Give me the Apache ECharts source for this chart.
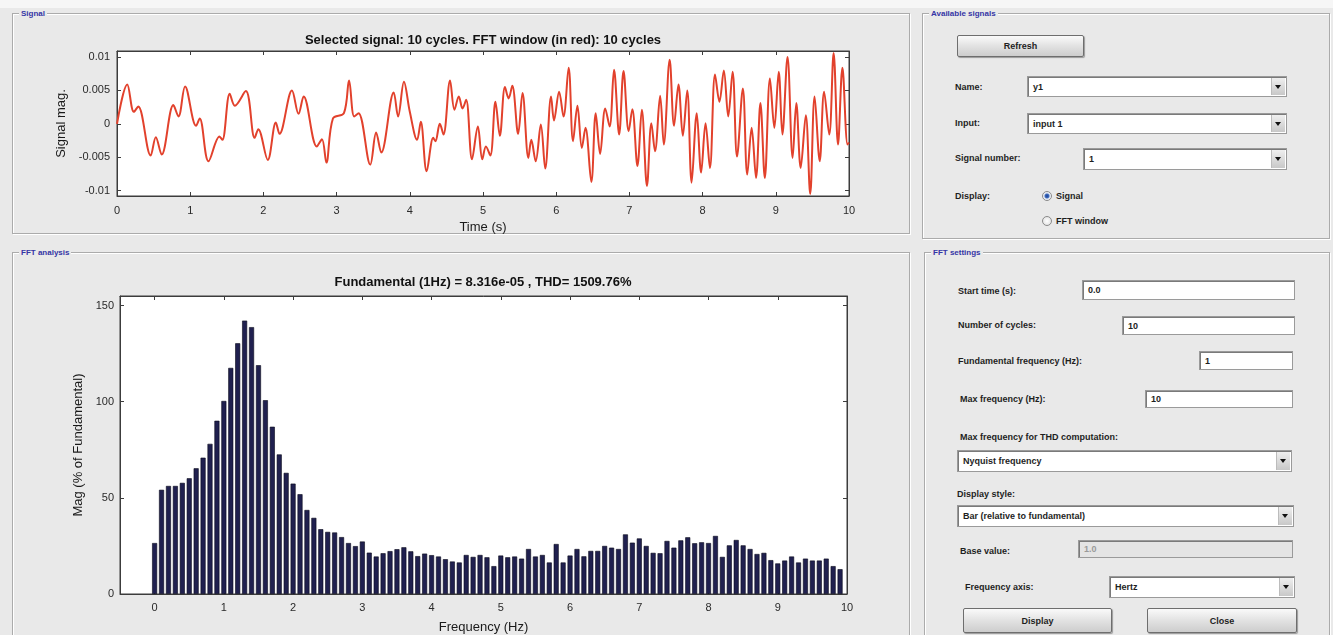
<!DOCTYPE html>
<html>
<head>
<meta charset="utf-8">
<title>FFT analysis</title>
<script src="https://cdn.jsdelivr.net/npm/echarts@6/dist/echarts.min.js"></script>
<style>
  html, body { margin: 0; padding: 0; }
  body { width: 1333px; height: 635px; overflow: hidden; background: #e9e9e9; position: relative;
         font-family: Arial, 'Liberation Sans', Helvetica, sans-serif; }
  #topstrip { position: absolute; left: 0; top: 0; width: 1333px; height: 8px; background: #f6f6f6; }
  .panel { position: absolute; border: 1px solid #ababab; box-shadow: inset 1px 1px 0 #fff, 1px 1px 0 #fff; }
  .plabel { position: absolute; top: -6px; left: 6px; padding: 0 2px; background: #e9e9e9; color: #3535a5;
            font-size: 8px; font-weight: bold; line-height: 11px; white-space: nowrap; }
  #chart { position: absolute; left: 0; top: 0; width: 912px; height: 635px; }
  .lbl { position: absolute; font-size: 9px; font-weight: bold; color: #1e1e1e; line-height: 12px;
         transform: translateY(-50%); white-space: nowrap; }
  .box { position: absolute; background: #fff; border: 1px solid #9a9a9a; box-shadow: inset 1px 1px 0 #7a7a7a;
         box-sizing: border-box; font-size: 9px; font-weight: bold; color: #1e1e1e; padding-left: 5px;
         display: flex; align-items: center; white-space: nowrap; }
  .box.off { background: #e4e4e4; color: #9a9a9a; }
  .arrow { position: absolute; right: 1px; top: 1px; bottom: 1px; width: 13px; background: linear-gradient(#efefef, #c8c8c8);
           border-left: 1px solid #bcbcbc; }
  .arrow:after { content: ''; position: absolute; left: 3px; top: 50%; margin-top: -2px; border-left: 3.5px solid transparent;
                 border-right: 3.5px solid transparent; border-top: 4px solid #111; }
  .btn { position: absolute; box-sizing: border-box; border: 1px solid #6e6e6e; border-radius: 2px;
         background: linear-gradient(#fafafa, #e2e2e2 50%, #cdcdcd); font-size: 9px; font-weight: bold; color: #1e1e1e;
         display: flex; align-items: center; justify-content: center; box-shadow: 1px 1px 1px #9a9a9a; }
  .radio { position: absolute; width: 10px; height: 10px; border-radius: 50%; border: 1px solid #8a8a8a;
           background: radial-gradient(#fff, #dcdcdc); box-sizing: border-box; transform: translate(-50%, -50%); }
  .radio.on { background: radial-gradient(circle, #1f3f8f 0, #3b6bc0 35%, #cfd8ea 50%, #fff 75%); }
</style>
</head>
<body>
<div id="topstrip"></div>
<div id="ui"></div>
<div id="chart"></div>
<script>
// Signal (time domain): extrema of the trace
const sigTime = [
  0.00, 0.14, 0.23, 0.29, 0.46, 0.53, 0.61, 0.77, 0.84, 0.93, 1.08, 1.13, 1.25, 1.40, 1.44, 1.54, 1.61, 1.76,
  1.88, 1.93, 2.06, 2.17, 2.22, 2.39, 2.48, 2.55, 2.73, 2.80, 2.86, 2.95, 3.10, 3.17, 3.24, 3.30,
  3.46, 3.54, 3.61, 3.78, 3.84, 3.92, 4.00, 4.10, 4.15, 4.23, 4.32, 4.35, 4.41, 4.46, 4.55, 4.61, 4.67,
  4.72, 4.77, 4.85, 4.93, 4.99, 5.04, 5.10, 5.17, 5.23, 5.30, 5.35, 5.40, 5.48, 5.54, 5.62, 5.66, 5.72,
  5.79, 5.85, 5.93, 5.97, 6.04, 6.10, 6.17, 6.23, 6.29, 6.35, 6.40, 6.48, 6.54, 6.60,
  6.67, 6.73, 6.79, 6.86, 6.92, 6.99, 7.04, 7.11, 7.17, 7.24, 7.30, 7.35, 7.42, 7.47, 7.55, 7.61, 7.67,
  7.73, 7.79, 7.85, 7.92, 7.98, 8.04, 8.10, 8.17, 8.23, 8.29, 8.35, 8.41, 8.47, 8.55, 8.61, 8.67, 8.73,
  8.79, 8.85, 8.92, 8.98, 9.04, 9.09, 9.16, 9.23, 9.28, 9.34, 9.41, 9.47, 9.53, 9.60, 9.66, 9.73, 9.79,
  9.85, 9.91, 9.98, 10.00
];
const sigMag = [
  0, 0.0059, 0.0018, 0.0026, -0.00475, -0.0020, -0.0046, 0.0028, 0.0011, 0.0056, -0.0003, 0.0008, -0.0056,
  -0.0019, -0.0024, 0.0045, 0.0027, 0.0049,
  -0.0021, -0.0008, -0.0054, 0.0002, -0.0015, 0.0050, 0.0015, 0.0041, -0.0034, -0.0023, -0.0058, 0.0008,
  0.0016, 0.0065, 0.0011, 0.0016,
  -0.0061, -0.0013, -0.0043, 0.0047, 0.0011, 0.0063, 0.0018, -0.0024, 0.0003, -0.0071, -0.0021, -0.0026,
  0.0000, -0.0016, 0.0065, 0.0021, 0.0041,
  0.0023, 0.0036, -0.0053, -0.0004, -0.0053, -0.0034, -0.00475, 0.0033, -0.0018, 0.0055, 0.0038, 0.0057,
  -0.0015, 0.0046, -0.0051, -0.0024, -0.0056,
  -0.0001, -0.0067, 0.0041, 0.0005, 0.0048, 0.0011, 0.0084, -0.0026, 0.0027, -0.0036, -0.0006, -0.0087,
  0.0016, -0.0045,
  0.0023, -0.0004, 0.0081, -0.0016, 0.0079, -0.0011, 0.0022, -0.0063, 0.0021, -0.0093, 0.0001, -0.0041,
  0.0042, -0.0031, 0.0096, -0.0003, 0.0059,
  -0.0018, 0.0050, -0.0088, 0.0016, -0.0073, 0.0001, -0.0066, 0.0074, 0.0033, 0.0080, 0.0011, 0.0078,
  -0.0049, 0.0053, -0.0076, -0.0006, -0.0081,
  0.0031, -0.0081, 0.0068, -0.0006, 0.0078, -0.0016, 0.0100, -0.0051, 0.0031, -0.0066, 0.0013, -0.0105,
  0.0041, -0.0056, 0.0048, -0.0016, 0.0106,
  -0.0031, 0.0084, -0.0031, -0.0028
];

// FFT bars (0.1 Hz resolution), % of fundamental
const fftFreq = [
  0.0, 0.1, 0.2, 0.3, 0.4, 0.5, 0.6, 0.7, 0.8, 0.9, 1.0, 1.1, 1.2, 1.3, 1.4, 1.5, 1.6, 1.7, 1.8, 1.9,
  2.0, 2.1, 2.2, 2.3, 2.4, 2.5, 2.6, 2.7, 2.8, 2.9, 3.0, 3.1, 3.2, 3.3, 3.4, 3.5, 3.6, 3.7, 3.8, 3.9,
  4.0, 4.1, 4.2, 4.3, 4.4, 4.5, 4.6, 4.7, 4.8, 4.9, 5.0, 5.1, 5.2, 5.3, 5.4, 5.5, 5.6, 5.7, 5.8, 5.9,
  6.0, 6.1, 6.2, 6.3, 6.4, 6.5, 6.6, 6.7, 6.8, 6.9, 7.0, 7.1, 7.2, 7.3, 7.4, 7.5, 7.6, 7.7, 7.8, 7.9,
  8.0, 8.1, 8.2, 8.3, 8.4, 8.5, 8.6, 8.7, 8.8, 8.9, 9.0, 9.1, 9.2, 9.3, 9.4, 9.5, 9.6, 9.7, 9.8, 9.9
];
const fftMag = [
  26.5, 54.2, 56.2, 56.2, 57.8, 60.2, 65.4, 70.9, 78.1, 90.1, 100.4, 117.6, 130.4, 142.2, 138.8, 119.0, 100.8, 87.0, 72.6, 63.0,
  57.4, 51.9, 43.7, 39.6, 33.7, 32.3, 32.0, 29.6, 26.5, 24.9, 27.3, 21.5, 19.5, 21.2, 22.3, 23.3, 24.3, 22.2, 19.7, 21.0,
  20.2, 19.5, 18.1, 16.9, 16.4, 20.3, 19.3, 20.3, 19.1, 14.5, 20.0, 19.1, 19.5, 18.4, 23.4, 19.5, 20.3, 16.4, 26.0, 16.4,
  20.0, 23.4, 19.6, 22.4, 22.4, 25.0, 24.1, 23.4, 31.0, 26.7, 28.9, 25.0, 21.4, 21.2, 27.6, 24.1, 27.9, 29.5, 26.4, 26.9,
  26.5, 30.2, 19.3, 25.3, 28.1, 25.3, 23.4, 20.8, 21.4, 17.6, 15.9, 17.4, 19.5, 16.4, 18.4, 17.4, 17.4, 18.4, 14.5, 12.9
];

const sigTitle = 'Selected signal: 10 cycles. FFT window (in red): 10 cycles';
const fftTitle = 'Fundamental (1Hz) = 8.316e-05 , THD= 1509.76%';

// ---- GUI panels and controls (plain HTML) ----
const ui = document.getElementById('ui');
function add(cls, css, html) {
  const d = document.createElement('div');
  d.className = cls;
  Object.assign(d.style, css);
  if (html !== undefined) d.innerHTML = html;
  ui.appendChild(d);
  return d;
}
const panels = [
  ['Signal', 12, 13, 896, 219],
  ['FFT analysis', 12, 252, 896, 420],
  ['Available signals', 922, 13, 406, 224],
  ['FFT settings', 924, 252, 404, 420]
];
panels.forEach(p => {
  const d = add('panel', { left: p[1] + 'px', top: p[2] + 'px', width: p[3] + 'px', height: p[4] + 'px' });
  const l = document.createElement('div');
  l.className = 'plabel';
  l.textContent = p[0];
  d.appendChild(l);
});

const labels = [
  ['Name:', 955, 87], ['Input:', 955, 123], ['Signal number:', 955, 158], ['Display:', 955, 196],
  ['Signal', 1056, 196], ['FFT window', 1056, 221],
  ['Start time (s):', 958, 291], ['Number of cycles:', 958, 325], ['Fundamental frequency (Hz):', 958, 361],
  ['Max frequency (Hz):', 960, 399], ['Max frequency for THD computation:', 960, 437],
  ['Display style:', 957, 494], ['Base value:', 960, 551], ['Frequency axis:', 965, 587]
];
labels.forEach(l => {
  const d = add('lbl', { left: l[1] + 'px', top: l[2] + 'px' });
  d.textContent = l[0];
});

const boxes = [
  { t: 'y1', x: 1027, y: 76, w: 260, h: 21, drop: true },
  { t: 'input 1', x: 1027, y: 113, w: 260, h: 21, drop: true },
  { t: '1', x: 1083, y: 148, w: 204, h: 22, drop: true },
  { t: '0.0', x: 1082, y: 280, w: 213, h: 20 },
  { t: '10', x: 1122, y: 316, w: 173, h: 19 },
  { t: '1', x: 1199, y: 351, w: 94, h: 19 },
  { t: '10', x: 1145, y: 390, w: 148, h: 18 },
  { t: 'Nyquist frequency', x: 957, y: 450, w: 335, h: 22, drop: true },
  { t: 'Bar (relative to fundamental)', x: 957, y: 505, w: 337, h: 22, drop: true },
  { t: '1.0', x: 1078, y: 540, w: 215, h: 18, off: true },
  { t: 'Hertz', x: 1109, y: 576, w: 186, h: 22, drop: true }
];
boxes.forEach(b => {
  const d = add('box' + (b.off ? ' off' : ''), { left: b.x + 'px', top: b.y + 'px', width: b.w + 'px', height: b.h + 'px' });
  d.textContent = b.t;
  if (b.drop) {
    const a = document.createElement('div');
    a.className = 'arrow';
    d.appendChild(a);
  }
});

const buttons = [
  ['Refresh', 957, 35, 127, 22], ['Display', 963, 608, 149, 25], ['Close', 1147, 608, 150, 25]
];
buttons.forEach(b => {
  const d = add('btn', { left: b[1] + 'px', top: b[2] + 'px', width: b[3] + 'px', height: b[4] + 'px' });
  d.textContent = b[0];
});
add('radio on', { left: '1047px', top: '196px' });
add('radio', { left: '1047px', top: '221px' });

// ---- Charts ----
const chart = echarts.init(document.getElementById('chart'));
const font = "Arial, 'Liberation Sans', Helvetica, sans-serif";
const axisCol = '#3c3c3c';
const tickStyle = { inside: true, length: 4, lineStyle: { color: axisCol } };
const lineStyle = { show: true, onZero: false, lineStyle: { color: axisCol, width: 1 } };
const lab = { color: '#2a2a2a', fontSize: 11, fontFamily: font };
const nameStyle = { color: '#1a1a1a', fontSize: 13, fontFamily: font };

const sigData = sigTime.map((t, i) => [t, sigMag[i]]);
const fftData = fftFreq.map((f, i) => [f, fftMag[i]]);

const option = {
  animation: false,
  backgroundColor: 'transparent',
  grid: [
    { left: 117, top: 51, width: 732, height: 145, show: true, backgroundColor: '#fff', borderColor: axisCol, borderWidth: 1 },
    { left: 120, top: 296, width: 727, height: 301, show: true, backgroundColor: '#fff', borderColor: axisCol, borderWidth: 1 }
  ],
  xAxis: [
    { gridIndex: 0, type: 'value', min: 0, max: 10, interval: 1, position: 'bottom',
      axisLine: lineStyle, axisTick: tickStyle, splitLine: { show: false },
      axisLabel: Object.assign({ margin: 9 }, lab),
      name: 'Time (s)', nameLocation: 'middle', nameGap: 25, nameTextStyle: nameStyle },
    { gridIndex: 0, type: 'value', min: 0, max: 10, interval: 1, position: 'top',
      axisLine: lineStyle, axisTick: tickStyle, splitLine: { show: false }, axisLabel: { show: false } },
    { gridIndex: 1, type: 'value', min: -0.5, max: 10, splitNumber: 10, position: 'bottom',
      axisLine: lineStyle, axisTick: tickStyle, splitLine: { show: false },
      axisLabel: Object.assign({ margin: 8, showMinLabel: false,
        formatter: v => (Math.abs(v - Math.round(v)) < 1e-9 ? String(Math.round(v)) : '') }, lab),
      name: 'Frequency (Hz)', nameLocation: 'middle', nameGap: 27, nameTextStyle: nameStyle },
    { gridIndex: 1, type: 'value', min: -0.5, max: 10, splitNumber: 10, position: 'top',
      axisLine: lineStyle, axisTick: tickStyle, splitLine: { show: false }, axisLabel: { show: false } }
  ],
  yAxis: [
    { gridIndex: 0, type: 'value', min: -0.0108, max: 0.0109, splitNumber: 5, position: 'left',
      axisLine: lineStyle, axisTick: tickStyle, splitLine: { show: false },
      axisLabel: Object.assign({ margin: 7, showMinLabel: false, showMaxLabel: false }, lab),
      name: 'Signal mag.', nameLocation: 'middle', nameGap: 46, nameTextStyle: nameStyle },
    { gridIndex: 0, type: 'value', min: -0.0108, max: 0.0109, splitNumber: 5, position: 'right',
      axisLine: lineStyle, axisTick: tickStyle, splitLine: { show: false }, axisLabel: { show: false } },
    { gridIndex: 1, type: 'value', min: 0, max: 155, interval: 50, position: 'left',
      axisLine: lineStyle, axisTick: tickStyle, splitLine: { show: false },
      axisLabel: Object.assign({ margin: 6, showMaxLabel: false }, lab),
      name: 'Mag (% of Fundamental)', nameLocation: 'middle', nameGap: 34, nameTextStyle: nameStyle },
    { gridIndex: 1, type: 'value', min: 0, max: 155, interval: 50, position: 'right',
      axisLine: lineStyle, axisTick: tickStyle, splitLine: { show: false }, axisLabel: { show: false } }
  ],
  graphic: [
    { type: 'text', x: 483, y: 40, style: { text: sigTitle, textAlign: 'center', textVerticalAlign: 'middle',
      fill: '#111', font: 'bold 13px ' + font } },
    { type: 'text', x: 483, y: 282, style: { text: fftTitle, textAlign: 'center', textVerticalAlign: 'middle',
      fill: '#111', font: 'bold 13px ' + font } }
  ],
  series: [
    { type: 'line', xAxisIndex: 0, yAxisIndex: 0, data: sigData, smooth: 0.35, showSymbol: false,
      lineStyle: { color: '#e2412c', width: 2 }, clip: true },
    { type: 'bar', xAxisIndex: 2, yAxisIndex: 2, data: fftData, barWidth: 5,
      itemStyle: { color: '#20204f', borderColor: '#08081a', borderWidth: 0.6 } }
  ]
};
chart.setOption(option);
</script>
</body>
</html>
